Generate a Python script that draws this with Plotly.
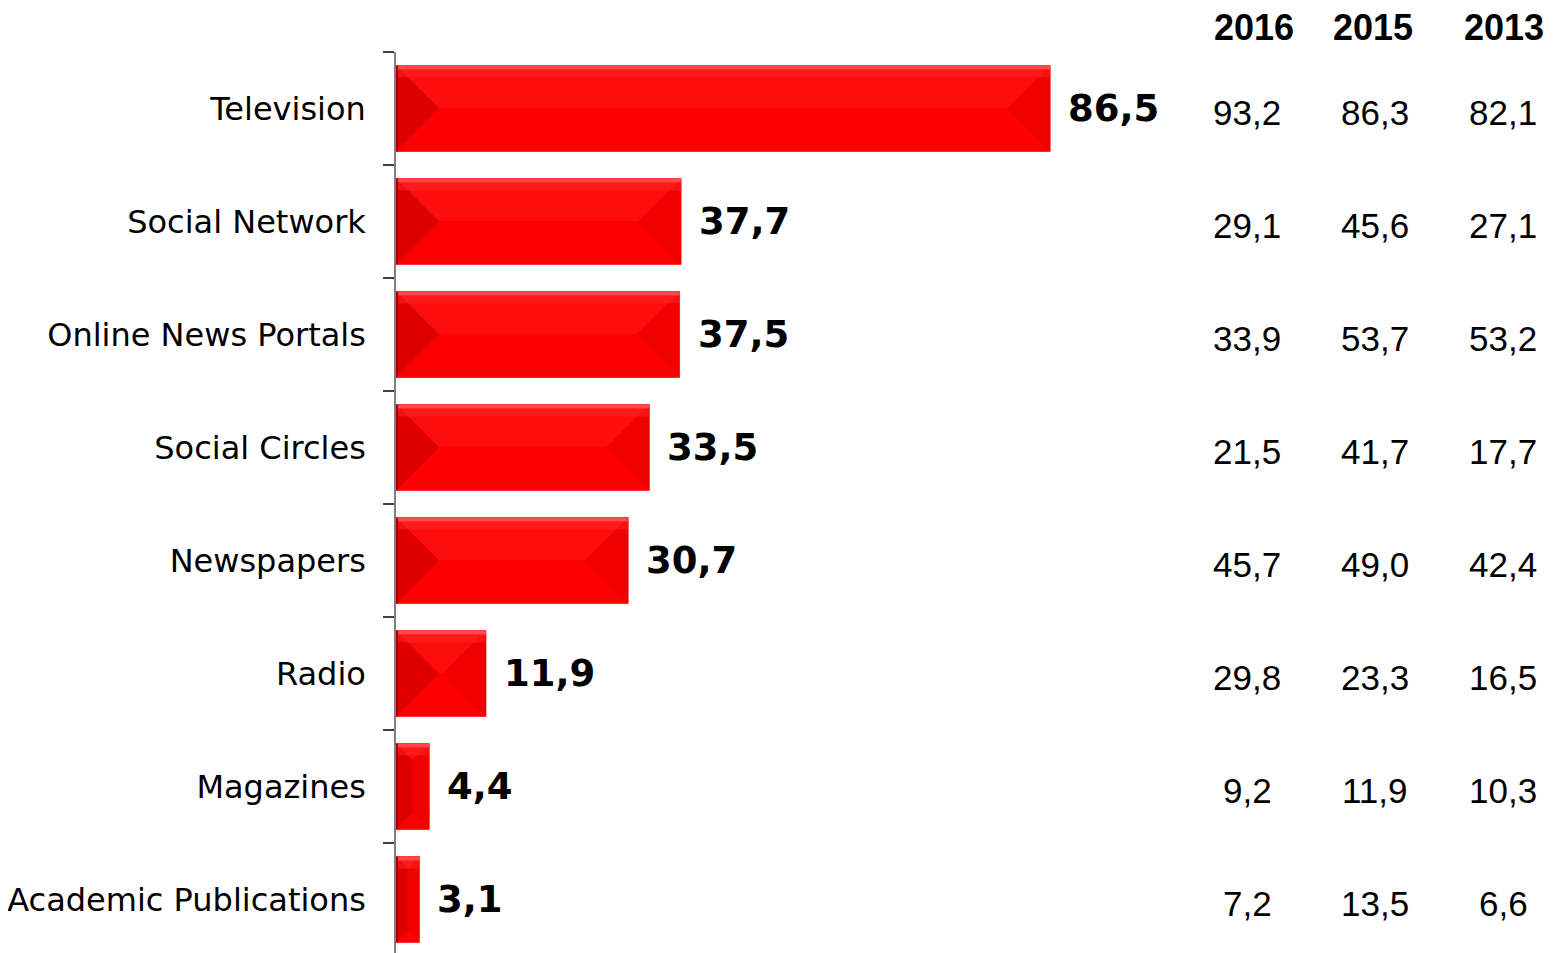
import plotly.graph_objects as go

categories = ["Television", "Social Network", "Online News Portals", "Social Circles",
              "Newspapers", "Radio", "Magazines", "Academic Publications"]
current = [86.5, 37.7, 37.5, 33.5, 30.7, 11.9, 4.4, 3.1]

years = ["2016", "2015", "2013"]
y2016 = [93.2, 29.1, 33.9, 21.5, 45.7, 29.8, 9.2, 7.2]
y2015 = [86.3, 45.6, 53.7, 41.7, 49.0, 23.3, 11.9, 13.5]
y2013 = [82.1, 27.1, 53.2, 17.7, 42.4, 16.5, 10.3, 6.6]


def fmt(v):
    return f"{v:.1f}".replace(".", ",")


# page body adds an 8px offset, so pixel positions below are shifted by it
OFF = 8
W, H = 1564, 953
ML, MT = 396 - OFF, 52 - OFF
XMAX = 155.5
ROW_PX = 113.0
plot_w = W - ML
plot_h = H - MT
px_x = plot_w / XMAX          # pixels per x unit
px_y = ROW_PX                 # pixels per category
BAR_W = 0.76
ypos = list(range(len(categories)))

fig = go.Figure()
fig.add_trace(go.Bar(
    x=current, y=ypos, orientation="h", width=BAR_W,
    marker=dict(color="#ff0000", line=dict(color="#ff5a5a", width=1)),
    hoverinfo="skip", showlegend=False,
))

# bevel facets computed from the bar values
shapes = []
for i, v in enumerate(current):
    top, bot = i - BAR_W / 2, i + BAR_W / 2
    b = min(v * px_x, BAR_W * px_y) / 2
    bx, by = b / px_x, b / px_y
    facets = [
        ([(0, top), (v, top), (v - bx, top + by), (bx, top + by)], "#ff0c0c"),
        ([(0, bot), (v, bot), (v - bx, bot - by), (bx, bot - by)], "#fd0000"),
        ([(0, top), (bx, top + by), (bx, bot - by), (0, bot)], "#dc0000"),
        ([(v, top), (v - bx, top + by), (v - bx, bot - by), (v, bot)], "#f00000"),
    ]
    for pts, col in facets:
        path = "M " + " L ".join(f"{x},{y}" for x, y in pts) + " Z"
        shapes.append(dict(type="path", path=path, xref="x", yref="y",
                           fillcolor=col, line=dict(width=0), layer="above"))
    # soft highlight along the top edge
    shapes.append(dict(type="rect", x0=0, x1=v, y0=top, y1=top + 4 / px_y,
                       xref="x", yref="y", fillcolor="#ff4848",
                       line=dict(width=0), layer="above"))
    shapes.append(dict(type="rect", x0=0, x1=v, y0=top + 4 / px_y, y1=top + 12 / px_y,
                       xref="x", yref="y", fillcolor="#ff2a2a", opacity=0.45,
                       line=dict(width=0), layer="above"))
    # dark left edge
    shapes.append(dict(type="rect", x0=0, x1=2 / px_x, y0=top, y1=bot,
                       xref="x", yref="y", fillcolor="#a80000",
                       line=dict(width=0), layer="above"))

annotations = []
for i, v in enumerate(current):
    annotations.append(dict(
        x=v, y=i, xref="x", yref="y", text=f"<b>{fmt(v)}</b>", showarrow=False,
        xanchor="left", xshift=16, yshift=0,
        font=dict(family="DejaVu Sans", size=37, color="black")))

col_px = [1247 - OFF, 1375 - OFF, 1503 - OFF]
head_px = [1254 - OFF, 1373 - OFF, 1504 - OFF]
for year, vals, cx, hx in zip(years, [y2016, y2015, y2013], col_px, head_px):
    annotations.append(dict(
        x=(hx - ML) / plot_w, y=1 + (MT - (27 - OFF)) / plot_h, xref="paper", yref="paper",
        text=f"<b>{year}</b>", showarrow=False, xanchor="center", yanchor="middle",
        height=36, valign="middle",
        font=dict(family="Liberation Sans", size=36, color="black")))
    for i, v in enumerate(vals):
        annotations.append(dict(
            x=(cx - ML) / plot_w, y=i, xref="paper", yref="y", text=fmt(v),
            showarrow=False, xanchor="center", yanchor="middle", yshift=-4,
            font=dict(family="Liberation Sans", size=35, color="black")))

fig.update_layout(
    width=W, height=H,
    margin=dict(l=ML, r=0, t=MT, b=0, autoexpand=False),
    paper_bgcolor="white", plot_bgcolor="white",
    shapes=shapes, annotations=annotations,
    xaxis=dict(range=[0, XMAX], visible=False, showgrid=False, zeroline=False,
               automargin=False),
    yaxis=dict(
        range=[-0.5 + plot_h / ROW_PX, -0.5],
        tickvals=ypos, ticktext=categories, ticks="",
        ticklabelstandoff=22, automargin=False,
        tickfont=dict(family="DejaVu Sans", size=32, color="black"),
        showline=True, linecolor="#7f7f7f", linewidth=1.5,
        showgrid=False, zeroline=False,
        minor=dict(tickvals=[k - 0.5 for k in range(len(categories) + 1)],
                   ticks="outside", ticklen=11, tickcolor="#404040",
                   tickwidth=1.5, showgrid=False),
    ),
)

fig.write_html("out.html")
